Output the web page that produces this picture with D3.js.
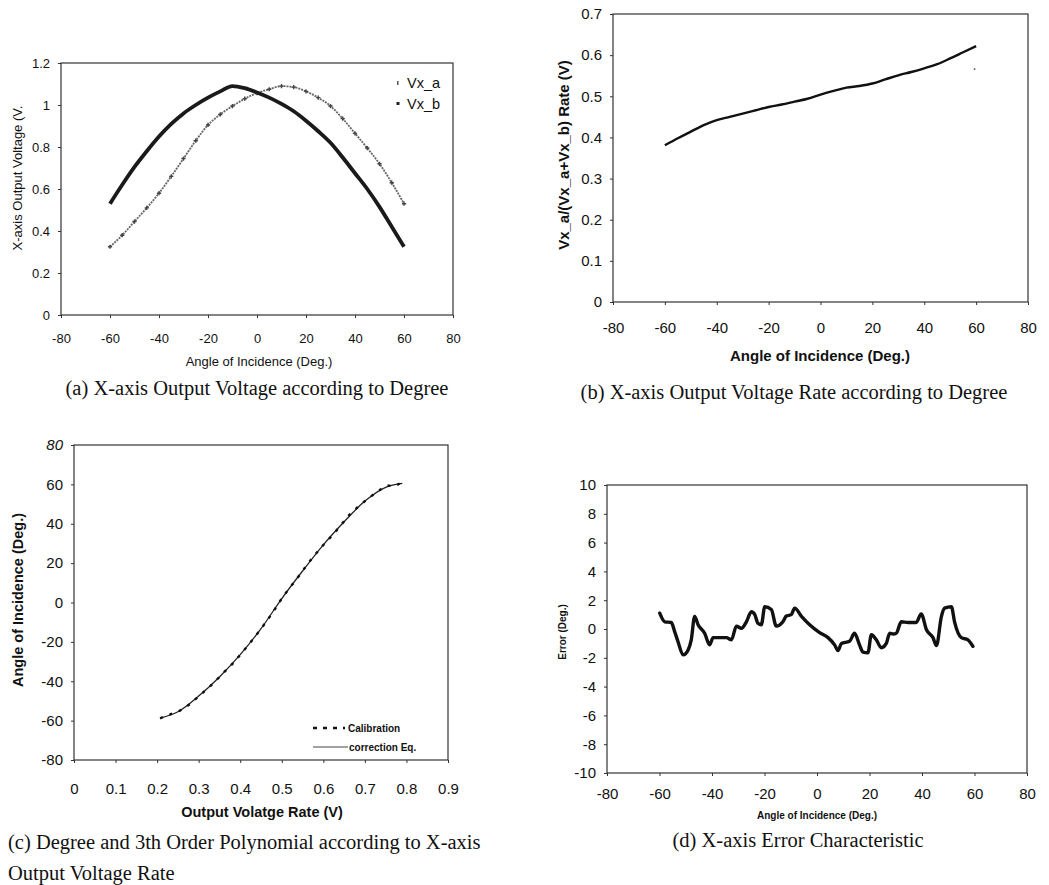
<!DOCTYPE html>
<html>
<head>
<meta charset="utf-8">
<script src="https://cdn.jsdelivr.net/npm/d3@7"></script>
<style>
  body { margin: 0; background: #fff; }
  svg { display: block; }
  .tick text { font-family: "Liberation Sans", Arial, sans-serif; fill: #111; }
  .caption { font-family: "Liberation Serif", "Times New Roman", serif; font-size: 20.5px; fill: #111; }
  .title { font-family: "Liberation Sans", Arial, sans-serif; fill: #111; }
</style>
</head>
<body>
<div id="chart"></div>
<script>
// ---- data ----
// (a) output voltage vs angle
var angleA = [-60,-55,-50,-45,-40,-35,-30,-25,-20,-15,-10,-5,0,5,10,15,20,25,30,35,40,45,50,55,60];
var vxA = [0.325,0.38,0.445,0.51,0.58,0.66,0.745,0.83,0.905,0.955,0.995,1.03,1.057,1.075,1.09,1.085,1.065,1.035,0.995,0.935,0.865,0.795,0.72,0.63,0.53];
var vxB = [0.53,0.62,0.705,0.78,0.85,0.91,0.96,1.0,1.035,1.065,1.09,1.08,1.06,1.035,1.005,0.97,0.925,0.875,0.82,0.75,0.675,0.6,0.515,0.42,0.325];

// (b) voltage rate vs angle
var angleB = [-60,-55,-50,-45,-40,-35,-30,-25,-20,-15,-10,-5,0,5,10,15,20,25,30,35,40,45,50,55,60];
var rateB = [0.381,0.398,0.414,0.43,0.442,0.45,0.458,0.466,0.474,0.48,0.487,0.494,0.504,0.513,0.521,0.525,0.531,0.541,0.551,0.559,0.568,0.578,0.592,0.607,0.622];
var strayB = [[59.4, 0.566]];

// (c) calibration and correction equation
var calibRate = [0.207,0.23,0.255,0.28,0.303,0.323,0.343,0.363,0.383,0.403,0.423,0.443,0.463,0.483,0.503,0.523,0.543,0.563,0.583,0.603,0.623,0.643,0.663,0.683,0.704,0.728,0.752,0.772,0.792];
var calibAngle = [-58.8,-57,-54.9,-51.5,-47,-43.5,-39.3,-35,-30.8,-25.8,-20.7,-15.3,-9.7,-3.5,3,8.5,14,19.8,25,30,34.4,39.5,44.6,48.5,52.2,56,59.5,59,61.5];
var corrRate = [0.21,0.25,0.3,0.35,0.4,0.45,0.5,0.55,0.6,0.65,0.7,0.75,0.79];
var corrAngle = [-58.6,-55.5,-47.5,-37.8,-26.5,-13.3,2,16,29.3,41,51.5,58.5,60.5];

// (d) error vs angle
var angleD = [-59.9,-58,-55.5,-54.2,-53,-51,-49.1,-47.9,-46.6,-45.3,-42.8,-40.9,-39.6,-37.1,-34.5,-32.6,-30.7,-28.8,-26.9,-25,-23.7,-22.5,-21.2,-19.9,-17.4,-15.5,-13,-11.7,-9.8,-8.5,-6,-2.8,1,4.2,6.7,8,9.3,12.4,14.3,16.2,17.5,19.4,20.7,22.6,24.5,26.4,27.7,29,30.2,32.1,34.7,37.8,39.7,41.7,44.2,45.5,47.4,48.6,51.2,52.4,55,57.5,59.4];
var errorD = [1.1,0.5,0.45,-0.2,-0.85,-1.8,-1.45,-0.75,0.88,0.3,-0.3,-1.1,-0.6,-0.6,-0.6,-0.75,0.2,0.05,0.5,1.2,1.0,0.4,0.3,1.55,1.35,0.2,0.5,0.9,1.0,1.45,0.9,0.3,-0.25,-0.6,-1.1,-1.5,-1.0,-0.85,-0.3,-1.1,-1.6,-1.65,-0.4,-0.75,-1.3,-1.0,-0.3,-0.35,-0.3,0.5,0.45,0.45,1.05,-0.05,-0.6,-1.15,0.88,1.45,1.55,0.5,-0.6,-0.75,-1.2];

// tick values
var angleTicks = [-80,-60,-40,-20,0,20,40,60,80];
var voltTicks = [0,0.2,0.4,0.6,0.8,1,1.2];
var rateTicks = [0,0.1,0.2,0.3,0.4,0.5,0.6,0.7];
var rateTicksC = [0,0.1,0.2,0.3,0.4,0.5,0.6,0.7,0.8,0.9];
var angleTicksC = [-80,-60,-40,-20,0,20,40,60,80];
var errorTicks = [-10,-8,-6,-4,-2,0,2,4,6,8,10];

var svg = d3.select("#chart").append("svg")
  .attr("width", 1049)
  .attr("height", 885);

// build a framed panel with its axes
function makePanel(o) {
  var x = d3.scaleLinear().domain(o.xDomain).range([o.left, o.right]);
  var y = d3.scaleLinear().domain(o.yDomain).range([o.bottom, o.top]);
  var g = svg.append("g");

  var xAxis = d3.axisBottom(x).tickValues(o.xTicks).tickFormat(function (d) { return String(d); })
    .tickSizeInner(3).tickSizeOuter(0).tickPadding(o.xPad);
  var yAxis = d3.axisLeft(y).tickValues(o.yTicks).tickFormat(function (d) { return String(d); })
    .tickSizeInner(3).tickSizeOuter(0).tickPadding(o.yPad);

  g.append("g").attr("transform", "translate(0," + o.bottom + ")").call(xAxis)
    .call(function (a) { a.select(".domain").remove(); })
    .selectAll("text").style("font-size", o.tickFont + "px");
  g.append("g").attr("class", "yaxis").attr("transform", "translate(" + o.left + ",0)").call(yAxis)
    .call(function (a) { a.select(".domain").remove(); })
    .selectAll("text").style("font-size", o.tickFont + "px");
  g.selectAll(".tick line").attr("stroke", "#333");

  g.append("rect")
    .attr("x", o.left).attr("y", o.top)
    .attr("width", o.right - o.left).attr("height", o.bottom - o.top)
    .attr("fill", "none").attr("stroke", "#333").attr("stroke-width", 1.2);

  return {g: g, x: x, y: y};
}

function addText(t, x, y, size, weight, rotate, cls, anchor) {
  svg.append("text")
    .attr("class", cls || "title")
    .attr("transform", "translate(" + x + "," + y + ")" + (rotate ? "rotate(-90)" : ""))
    .attr("text-anchor", anchor || "middle")
    .attr("dominant-baseline", "central")
    .style("font-size", size + "px")
    .style("font-weight", weight || "normal")
    .text(t);
}

// ---------------- (a) ----------------
var pa = makePanel({left: 61, right: 453, top: 63, bottom: 315,
  xDomain: [-80, 80], yDomain: [0, 1.2], xTicks: angleTicks, yTicks: voltTicks,
  xPad: 16, yPad: 8, tickFont: 13});

var lineA = d3.line().curve(d3.curveMonotoneX)
  .x(function (d) { return pa.x(d[0]); }).y(function (d) { return pa.y(d[1]); });
var dataVxA = angleA.map(function (a, i) { return [a, vxA[i]]; });
var dataVxB = angleA.map(function (a, i) { return [a, vxB[i]]; });

pa.g.append("path").datum(dataVxA).attr("d", lineA)
  .attr("fill", "none").attr("stroke", "#666").attr("stroke-width", 1.8)
  .attr("stroke-dasharray", "2,1");
pa.g.selectAll(".mka").data(dataVxA).enter().append("path")
  .attr("d", d3.symbol().type(d3.symbolCross).size(10))
  .attr("transform", function (d) { return "translate(" + pa.x(d[0]) + "," + pa.y(d[1]) + ")"; })
  .attr("fill", "#444");
pa.g.append("path").datum(dataVxB).attr("d", lineA)
  .attr("fill", "none").attr("stroke", "#1a1a1a").attr("stroke-width", 3.8);

// legend
pa.g.append("rect").attr("x", 397).attr("y", 81).attr("width", 1.5).attr("height", 4).attr("fill", "#555");
pa.g.append("rect").attr("x", 396.5).attr("y", 102).attr("width", 3).attr("height", 3).attr("fill", "#222");
addText("Vx_a", 407, 83, 14.5, "normal", false, "title", "start");
addText("Vx_b", 407, 104, 14.5, "normal", false, "title", "start");

addText("Angle of Incidence (Deg.)", 259, 361, 13);
addText("X-axis Output Voltage (V.", 17, 178, 13, "normal", true);
addText("(a) X-axis Output Voltage according to Degree", 257, 388, 20.5, "normal", false, "caption");

// ---------------- (b) ----------------
var pb = makePanel({left: 613, right: 1028, top: 14, bottom: 302,
  xDomain: [-80, 80], yDomain: [0, 0.7], xTicks: angleTicks, yTicks: rateTicks,
  xPad: 17, yPad: 8, tickFont: 15});

var lineB = d3.line().curve(d3.curveMonotoneX)
  .x(function (d) { return pb.x(d[0]); }).y(function (d) { return pb.y(d[1]); });
pb.g.append("path").datum(angleB.map(function (a, i) { return [a, rateB[i]]; })).attr("d", lineB)
  .attr("fill", "none").attr("stroke", "#111").attr("stroke-width", 2.4);
pb.g.selectAll(".stray").data(strayB).enter().append("rect")
  .attr("x", function (d) { return pb.x(d[0]) - 0.8; }).attr("y", function (d) { return pb.y(d[1]) - 0.8; })
  .attr("width", 1.6).attr("height", 1.6).attr("fill", "#555");

addText("Angle of Incidence (Deg.)", 820, 355, 15, "bold");
addText("Vx_a/(Vx_a+Vx_b) Rate (V)", 563, 155, 15, "bold", true);
addText("(b) X-axis Output Voltage Rate according to Degree", 794, 392, 20.5, "normal", false, "caption");

// ---------------- (c) ----------------
var pc = makePanel({left: 74, right: 448, top: 445, bottom: 760,
  xDomain: [0, 0.9], yDomain: [-80, 80], xTicks: rateTicksC, yTicks: angleTicksC,
  xPad: 20, yPad: 8, tickFont: 15});
pc.g.select(".yaxis").selectAll(".tick text").filter(function (d) { return d === 80; })
  .attr("font-style", "italic");

var lineC = d3.line()
  .x(function (d) { return pc.x(d[0]); }).y(function (d) { return pc.y(d[1]); });
var lineCsmooth = d3.line().curve(d3.curveMonotoneX)
  .x(function (d) { return pc.x(d[0]); }).y(function (d) { return pc.y(d[1]); });
pc.g.append("path").datum(corrRate.map(function (r, i) { return [r, corrAngle[i]]; })).attr("d", lineCsmooth)
  .attr("fill", "none").attr("stroke", "#222").attr("stroke-width", 1.3);
pc.g.append("path").datum(calibRate.map(function (r, i) { return [r, calibAngle[i]]; })).attr("d", lineC)
  .attr("fill", "none").attr("stroke", "#111").attr("stroke-width", 2.4).attr("stroke-dasharray", "3,7");

// legend
pc.g.append("line").attr("x1", 313).attr("x2", 345).attr("y1", 728).attr("y2", 728)
  .attr("stroke", "#111").attr("stroke-width", 2.6).attr("stroke-dasharray", "4,6");
pc.g.append("line").attr("x1", 313).attr("x2", 348).attr("y1", 747).attr("y2", 747)
  .attr("stroke", "#444").attr("stroke-width", 1);
addText("Calibration", 348, 728, 10, "bold", false, "title", "start");
addText("correction Eq.", 349, 747, 10, "bold", false, "title", "start");

addText("Output Volatge Rate (V)", 262, 812, 14.5, "bold");
addText("Angle of Incidence (Deg.)", 18, 600, 14.5, "bold", true);
svg.append("text").attr("class", "caption").attr("x", 8).attr("y", 849).text("(c) Degree and 3th Order Polynomial according to X-axis");
svg.append("text").attr("class", "caption").attr("x", 8).attr("y", 880).text("Output Voltage Rate");

// ---------------- (d) ----------------
var pd = makePanel({left: 607, right: 1027, top: 485, bottom: 773,
  xDomain: [-80, 80], yDomain: [-10, 10], xTicks: angleTicks, yTicks: errorTicks,
  xPad: 12, yPad: 8, tickFont: 15});

var lineD = d3.line().curve(d3.curveMonotoneX)
  .x(function (d) { return pd.x(d[0]); }).y(function (d) { return pd.y(d[1]); });
pd.g.append("path").datum(angleD.map(function (a, i) { return [a, errorD[i]]; })).attr("d", lineD)
  .attr("fill", "none").attr("stroke", "#111").attr("stroke-width", 3.4)
  .attr("stroke-linejoin", "round").attr("stroke-linecap", "round");

addText("Angle of Incidence (Deg.)", 817, 815, 10, "bold");
addText("Error (Deg.)", 562, 632, 10, "bold", true);
addText("(d) X-axis Error Characteristic", 798, 840, 20.5, "normal", false, "caption");
</script>
</body>
</html>
